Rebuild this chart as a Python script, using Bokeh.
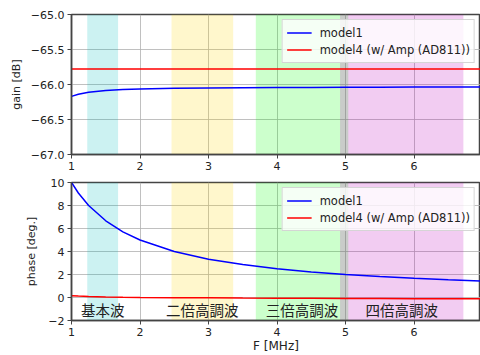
from bokeh.plotting import figure
from bokeh.layouts import column
from bokeh.models import Range1d, BoxAnnotation, Legend, LegendItem, FixedTicker, Label
from bokeh.embed import file_html
from bokeh.resources import INLINE

# ---- data ----
freq = [1.0, 1.1, 1.25, 1.5, 1.75, 2.0, 2.5, 3.0, 3.5, 4.0, 4.5, 5.0, 5.5, 6.0, 6.5, 7.0]
gain_model1 = [-66.17, -66.14, -66.11, -66.085, -66.072, -66.063, -66.055, -66.05, -66.047,
               -66.044, -66.042, -66.04, -66.038, -66.036, -66.035, -66.034]
gain_model4 = [-65.78, -65.78, -65.78, -65.78, -65.78, -65.78, -65.78, -65.78, -65.78,
               -65.78, -65.78, -65.78, -65.78, -65.78, -65.78, -65.78]
phase_model1 = [10.0, 9.09, 8.0, 6.67, 5.71, 5.0, 4.0, 3.33, 2.86, 2.5, 2.22, 2.0, 1.82,
                1.67, 1.54, 1.43]
phase_model4 = [0.15, 0.12, 0.09, 0.05, 0.02, 0.0, -0.02, -0.03, -0.05, -0.06, -0.07,
                -0.08, -0.09, -0.1, -0.1, -0.11]

band_lo = [1.23, 2.46, 3.69, 4.92]
band_hi = [1.68, 3.36, 5.04, 6.72]
band_colors = ["#00bfbf", "#ffd700", "#00ff00", "#bf00bf"]
band_names = ["基本波", "二倍高調波", "三倍高調波", "四倍高調波"]

series_names = ["model1", "model4 (w/ Amp (AD811))"]
series_colors = ["#0000ff", "#ff0000"]

x_ticks = [1, 2, 3, 4, 5, 6, 7]
gain_ticks = [-67.0, -66.5, -66.0, -65.5, -65.0]
phase_ticks = [-2, 0, 2, 4, 6, 8, 10]

FONT = "DejaVu Sans"
AX = "#444444"
FS = "11px"


def make_fig(height, border_top, border_bottom, y_lo, y_hi, y_ticks, ylabel, ylabel_standoff,
             xlabel=None):
    p = figure(width=480, height=height, output_backend="svg", toolbar_location=None,
               x_range=Range1d(1, 6.97), y_range=Range1d(y_lo, y_hi))
    p.min_border_left = 71
    p.min_border_right = 0
    p.min_border_top = border_top
    p.min_border_bottom = border_bottom
    p.outline_line_color = AX
    p.outline_line_width = 1.5
    p.background_fill_color = "white"
    p.border_fill_color = "white"
    for ax in (p.xaxis[0], p.yaxis[0]):
        ax.axis_line_color = AX
        ax.axis_line_width = 1.5
        ax.major_tick_line_color = AX
        ax.major_tick_out = 4
        ax.major_tick_in = 0
        ax.minor_tick_line_color = None
        ax.major_label_text_font = FONT
        ax.major_label_text_font_size = FS
        ax.major_label_text_color = "#222222"
        ax.axis_label_text_font = FONT
        ax.axis_label_text_font_size = FS
        ax.axis_label_text_font_style = "normal"
        ax.axis_label_text_color = "#222222"
    p.xaxis.ticker = FixedTicker(ticks=x_ticks)
    p.yaxis.ticker = FixedTicker(ticks=y_ticks)
    p.xaxis.major_label_standoff = 3
    p.yaxis.major_label_standoff = 3
    p.yaxis.axis_label = ylabel
    p.yaxis.axis_label_standoff = ylabel_standoff
    if xlabel:
        p.xaxis.axis_label = xlabel
        p.xaxis.axis_label_standoff = 0
        p.xaxis.axis_label_text_font_size = "12px"
    p.xaxis.major_label_overrides = {t: str(t) for t in x_ticks}
    p.yaxis.major_label_overrides = {t: (f"{t:.1f}" if isinstance(t, float) else str(t)).replace("-", "\u2212") for t in y_ticks}
    p.grid.grid_line_color = "#b0b0b0"
    p.grid.grid_line_alpha = 0.8
    p.grid.grid_line_width = 1
    for lo, hi, c in zip(band_lo, band_hi, band_colors):
        p.add_layout(BoxAnnotation(left=lo, right=hi, fill_color=c, fill_alpha=0.2,
                                   line_color=None, level="underlay"))
    return p


p1 = make_fig(176, 14, 22, -67, -65, gain_ticks, "gain [dB]", 5)
r1 = p1.line(freq, gain_model1, line_color=series_colors[0], line_width=1.5)
r2 = p1.line(freq, gain_model4, line_color=series_colors[1], line_width=1.5)

p2 = make_fig(179, 6, 33, -2, 10, phase_ticks, "phase [deg.]", 7, xlabel="F [MHz]")
r3 = p2.line(freq, phase_model1, line_color=series_colors[0], line_width=1.5)
r4 = p2.line(freq, phase_model4, line_color=series_colors[1], line_width=1.5)

for name, x0, x1 in zip(band_names, band_lo, band_hi):
    p2.add_layout(Label(x=(x0 + x1) / 2, y=-1.0, text=name, text_align="center",
                        text_baseline="middle", text_font="Noto Sans CJK JP",
                        text_font_size="14.5px", text_color="#222222"))

for p, ra, rb in ((p1, r1, r2), (p2, r3, r4)):
    leg = Legend(items=[LegendItem(label=series_names[0], renderers=[ra]),
                        LegendItem(label=series_names[1], renderers=[rb])],
                 location="top_right")
    leg.label_text_font = FONT
    leg.label_text_font_size = "11.5px"
    leg.label_text_color = "#222222"
    leg.border_line_color = "#cccccc"
    leg.border_line_alpha = 0.8
    leg.background_fill_alpha = 0.8
    leg.glyph_width = 25
    leg.glyph_height = 17
    leg.label_height = 17
    leg.spacing = 0
    leg.padding = 4
    leg.margin = 5
    leg.label_standoff = 8
    p.add_layout(leg)

layout = column(p1, p2, spacing=0)
open("out.html", "w").write(file_html(layout, INLINE))
